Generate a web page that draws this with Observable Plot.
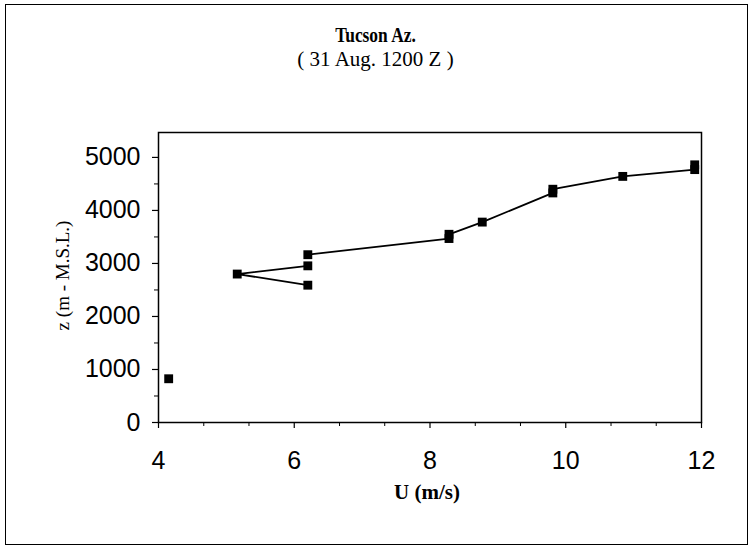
<!DOCTYPE html>
<html>
<head>
<meta charset="utf-8">
<script src="https://cdn.jsdelivr.net/npm/d3@7"></script>
<script src="https://cdn.jsdelivr.net/npm/@observablehq/plot@0.6"></script>
<style>
  body { margin: 0; background: #fff; }
  #wrap { position: relative; width: 751px; height: 549px; overflow: hidden; background: #fff; }
  #frame { position: absolute; left: 5px; top: 4px; width: 741px; height: 539px; border: 1.5px solid #000; pointer-events: none; }
  .ttl { position: absolute; left: 0; width: 751px; text-align: center; font-family: "Liberation Serif", "Times New Roman", serif; color: #000; white-space: pre; transform-origin: 375.5px 50%; }
  #title { top: 25px; font-size: 20px; line-height: 20px; font-weight: bold; transform: scaleX(0.87); }
  #subtitle { top: 49px; font-size: 21px; line-height: 21px; }
  #chart { position: absolute; left: 0; top: 88px; }
</style>
</head>
<body>
<div id="wrap">
  <div id="title" class="ttl"></div>
  <div id="subtitle" class="ttl"></div>
  <div id="chart"></div>
  <div id="frame"></div>
</div>
<script>
// ---- data ----
const titleText = "Tucson Az.";
const subtitleText = "( 31 Aug. 1200 Z )";
const xLabel = "U (m/s)";
const yLabel = "z (m - M.S.L.)";

const uWind  = [4.15, 6.2, 5.16, 6.2, 6.2, 8.28, 8.28, 8.77, 9.81, 9.81, 10.84, 11.9, 11.9];
const zHeight = [825, 2590, 2800, 2955, 3165, 3470, 3550, 3780, 4330, 4400, 4642, 4770, 4860];
const segment = [0, 1, 1, 1, 2, 2, 2, 2, 2, 2, 2, 2, 2];

const xTicks = [4, 6, 8, 10, 12];
const xMinorTicks = [4.667, 5.333, 6.667, 7.333, 8.667, 9.333, 10.667, 11.333];
const yTicks = [0, 1000, 2000, 3000, 4000, 5000];
const yMinorTicks = [500, 1500, 2500, 3500, 4500];

document.getElementById("title").textContent = titleText;
document.getElementById("subtitle").textContent = subtitleText;

const data = uWind.map((u, i) => ({u, z: zHeight[i], seg: segment[i]}));

const chart = Plot.plot({
  width: 751,
  height: 461,
  marginLeft: 158,
  marginRight: 50,
  marginTop: 44,
  marginBottom: 127,
  x: {domain: [4, 12]},
  y: {domain: [0, 5470]},
  style: {fontFamily: "Liberation Sans, Arial, sans-serif", background: "white", color: "black"},
  marks: [
    Plot.frame({stroke: "black", strokeWidth: 1.5}),
    Plot.axisX(xMinorTicks, {tickSize: 4, tickFormat: () => "", label: null, strokeWidth: 1}),
    Plot.axisX(xTicks, {tickSize: 6, tickPadding: 23, fontSize: 25, label: null, strokeWidth: 1.2, fill: "black", tickFormat: d => String(d)}),
    Plot.axisY(yMinorTicks, {tickSize: 4, tickFormat: () => "", label: null, strokeWidth: 1}),
    Plot.axisY(yTicks, {tickSize: 6, tickPadding: 12, fontSize: 25, label: null, strokeWidth: 1.2, fill: "black", tickFormat: d => String(d)}),
    Plot.text([yLabel], {text: d => d, frameAnchor: "left", textAnchor: "middle", dx: -96, dy: -2, rotate: -90, fill: "black", fontFamily: "Liberation Serif, serif", fontSize: 19}),
    Plot.text([xLabel], {text: d => d, frameAnchor: "bottom", textAnchor: "middle", dx: -3, dy: 76, fill: "black", fontFamily: "Liberation Serif, serif", fontWeight: "bold", fontSize: 21}),
    Plot.line(data.filter(d => d.seg > 0), {x: "u", y: "z", z: "seg", stroke: "black", strokeWidth: 1.8}),
    Plot.dot(data, {x: "u", y: "z", symbol: "square", r: 5, fill: "black", stroke: "none"})
  ]
});
document.getElementById("chart").appendChild(chart);
</script>
</body>
</html>
